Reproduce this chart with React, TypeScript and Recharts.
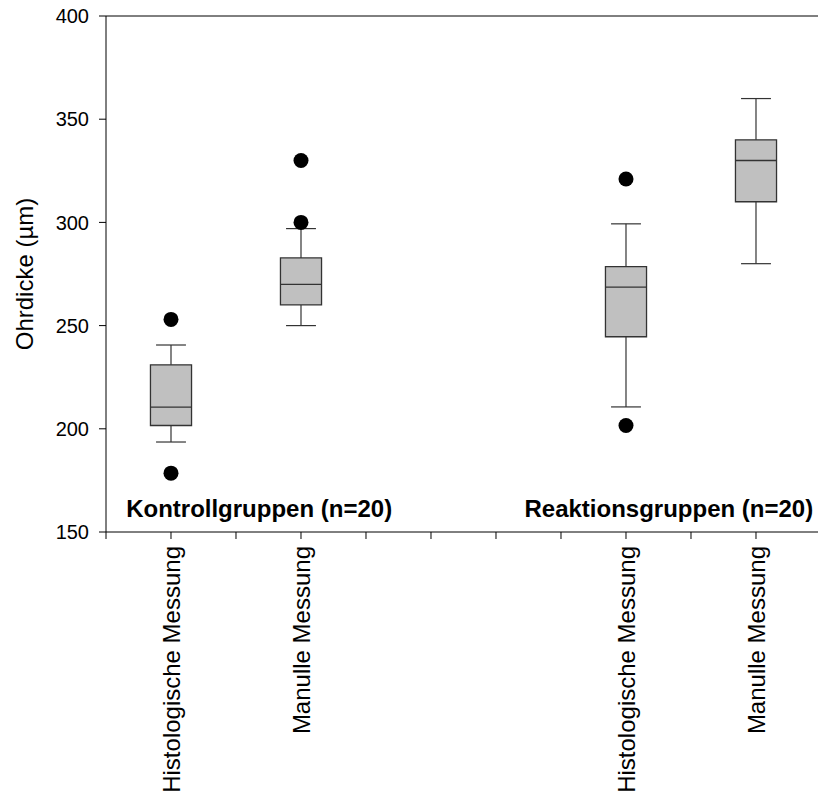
import React from 'react';
import {
  ComposedChart,
  XAxis,
  YAxis,
  Scatter,
  ReferenceArea,
  ReferenceLine,
} from 'recharts';

// ---- data ----
const categories = [
  'Histologische Messung',
  'Manulle Messung',
  'Histologische Messung',
  'Manulle Messung',
];
const categoryPositions = [1, 3, 8, 10];
const whiskerLow = [193.6, 250, 210.6, 280];
const quartile1 = [201.6, 260, 244.6, 310];
const medians = [210.5, 270, 268.6, 330];
const quartile3 = [231, 282.8, 278.6, 340];
const whiskerHigh = [240.6, 297, 299.3, 360];
const outlierValues = [
  [253, 178.5],
  [330, 300],
  [321, 201.6],
  [],
];
const yTicks = [150, 200, 250, 300, 350, 400];
const xTicks = [0, 1, 2, 3, 4, 5, 6, 7, 8, 9, 10];
const groupLabels = ['Kontrollgruppen (n=20)', 'Reaktionsgruppen (n=20)'];
const yTitle = 'Ohrdicke (µm)';

const FONT = '"Liberation Sans", Arial, Helvetica, sans-serif';
const BOX_HALF = 0.316;
const CAP_HALF = 0.23;
const LINE = '#333333';
const X_MAX = 11.077;
const Y_MAX = 400;
const CHART_W = 826;

const outlierData = outlierValues.flatMap((vals, i) =>
  vals.map((v) => ({ x: categoryPositions[i], y: v }))
);

const XTick = (props: any) => {
  const { x, y, payload } = props;
  const idx = categoryPositions.indexOf(payload.value);
  if (idx < 0) return null;
  return (
    <text
      x={x}
      y={y}
      transform={`rotate(-90, ${x}, ${y})`}
      textAnchor="end"
      dy="0.36em"
      fontSize={24}
      fontFamily={FONT}
      fill="#000"
    >
      {categories[idx]}
    </text>
  );
};

// y title plus the frame line along the top of the plot area
const YTitle = (props: any) => {
  const vb = props.viewBox || {};
  const top = vb.y ?? 16;
  const cy = top + (vb.height ?? 516) / 2;
  const cx = (vb.x ?? 0) + 24;
  const right = (vb.x ?? 0) + (vb.width ?? 106);
  return (
    <g>
      <line x1={right} y1={top} x2={818} y2={top} stroke="#000" strokeWidth={1} />
      <text
        x={cx}
        y={cy}
        transform={`rotate(-90, ${cx}, ${cy})`}
        textAnchor="middle"
        dy="0.36em"
        fontSize={24}
        fontFamily={FONT}
        fill="#000"
      >
        {yTitle}
      </text>
    </g>
  );
};

// group labels placed along the x axis (fractions of the x domain)
const GroupLabels = (props: any) => {
  const vb = props.viewBox || { x: 106, y: 532, width: 720 };
  const px = (v: number) => vb.x + (v / X_MAX) * vb.width;
  const baseline = vb.y - 15;
  return (
    <g>
      <text
        x={px(0.31)}
        y={baseline}
        textAnchor="start"
        fontSize={24}
        fontWeight="bold"
        fontFamily={FONT}
        fill="#000"
      >
        {groupLabels[0]}
      </text>
      <text
        x={px(10.88)}
        y={baseline}
        textAnchor="end"
        fontSize={24}
        fontWeight="bold"
        fontFamily={FONT}
        fill="#000"
      >
        {groupLabels[1]}
      </text>
    </g>
  );
};

export default function App() {
  return (
    <div
      style={{
        position: 'absolute',
        left: 0,
        top: 0,
        width: 818,
        height: 797,
        overflow: 'hidden',
        background: '#fff',
      }}
    >
      <ComposedChart
        width={CHART_W}
        height={797}
        margin={{ top: 16, right: 0, bottom: 0, left: 0 }}
        accessibilityLayer={false}
      >
        <XAxis
          type="number"
          dataKey="x"
          domain={[0, X_MAX]}
          ticks={xTicks}
          interval={0}
          height={265}
          tickSize={7}
          tickMargin={7}
          axisLine={{ stroke: '#000' }}
          tickLine={{ stroke: '#000' }}
          tick={<XTick />}
          label={{ content: (p: any) => <GroupLabels {...p} /> }}
          allowDataOverflow
        />
        <XAxis
          xAxisId="top"
          orientation="top"
          type="number"
          domain={[0, X_MAX]}
          height={0}
          tick={false}
          tickLine={false}
          axisLine={false}
        />
        <YAxis
          type="number"
          domain={[150, Y_MAX]}
          ticks={yTicks}
          interval={0}
          width={106}
          tickSize={7}
          tickMargin={10}
          axisLine={{ stroke: '#000' }}
          tickLine={{ stroke: '#000' }}
          tick={{ fontSize: 20, fontFamily: FONT, fill: '#000' }}
          label={{ content: (p: any) => <YTitle {...p} /> }}
          allowDataOverflow
        />

        {categoryPositions.map((pos, i) => (
          <ReferenceLine
            key={`wh-${i}`}
            segment={[
              { x: pos, y: quartile3[i] },
              { x: pos, y: whiskerHigh[i] },
            ]}
            stroke={LINE}
            strokeWidth={1.2}
          />
        ))}
        {categoryPositions.map((pos, i) => (
          <ReferenceLine
            key={`wl-${i}`}
            segment={[
              { x: pos, y: whiskerLow[i] },
              { x: pos, y: quartile1[i] },
            ]}
            stroke={LINE}
            strokeWidth={1.2}
          />
        ))}
        {categoryPositions.map((pos, i) => (
          <ReferenceLine
            key={`ch-${i}`}
            segment={[
              { x: pos - CAP_HALF, y: whiskerHigh[i] },
              { x: pos + CAP_HALF, y: whiskerHigh[i] },
            ]}
            stroke={LINE}
            strokeWidth={1.2}
          />
        ))}
        {categoryPositions.map((pos, i) => (
          <ReferenceLine
            key={`cl-${i}`}
            segment={[
              { x: pos - CAP_HALF, y: whiskerLow[i] },
              { x: pos + CAP_HALF, y: whiskerLow[i] },
            ]}
            stroke={LINE}
            strokeWidth={1.2}
          />
        ))}
        {categoryPositions.map((pos, i) => (
          <ReferenceArea
            key={`box-${i}`}
            x1={pos - BOX_HALF}
            x2={pos + BOX_HALF}
            y1={quartile1[i]}
            y2={quartile3[i]}
            fill="#c0c0c0"
            fillOpacity={1}
            stroke={LINE}
            strokeWidth={1.3}
          />
        ))}
        {categoryPositions.map((pos, i) => (
          <ReferenceLine
            key={`med-${i}`}
            segment={[
              { x: pos - BOX_HALF, y: medians[i] },
              { x: pos + BOX_HALF, y: medians[i] },
            ]}
            stroke={LINE}
            strokeWidth={1.3}
          />
        ))}

        <Scatter
          data={outlierData}
          dataKey="y"
          isAnimationActive={false}
          shape={(p: any) => <circle cx={p.cx} cy={p.cy} r={7.5} fill="#000" />}
        />
      </ComposedChart>
    </div>
  );
}
